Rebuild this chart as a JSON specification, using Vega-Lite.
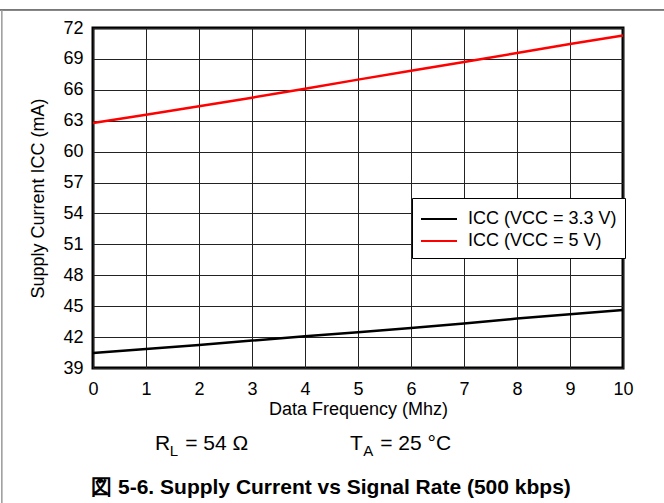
{
  "$schema": "https://vega.github.io/schema/vega-lite/v6.json",
  "width": 530,
  "height": 340,
  "autosize": {"type": "none"},
  "padding": {"left": 93, "top": 28, "right": 41, "bottom": 135},
  "background": "white",
  "config": {
    "font": "Liberation Sans",
    "view": {"stroke": "black", "strokeWidth": 3},
    "axis": {
      "labelFont": "Liberation Sans",
      "titleFont": "Liberation Sans",
      "labelFontSize": 18,
      "titleFontSize": 18,
      "labelColor": "black",
      "titleColor": "black",
      "titleFontWeight": "normal",
      "gridColor": "#222",
      "gridOpacity": 1,
      "gridWidth": 1,
      "domain": false,
      "ticks": false,
      "labelOverlap": false,
      "labelFlush": false
    },
    "text": {"font": "Liberation Sans", "color": "black", "align": "left", "baseline": "alphabetic"}
  },
  "datasets": {
    "curves": [
      {"f": 0, "icc": 40.46, "s": "ICC (VCC = 3.3 V)"},
      {"f": 1, "icc": 40.84, "s": "ICC (VCC = 3.3 V)"},
      {"f": 2, "icc": 41.24, "s": "ICC (VCC = 3.3 V)"},
      {"f": 3, "icc": 41.66, "s": "ICC (VCC = 3.3 V)"},
      {"f": 4, "icc": 42.07, "s": "ICC (VCC = 3.3 V)"},
      {"f": 5, "icc": 42.47, "s": "ICC (VCC = 3.3 V)"},
      {"f": 6, "icc": 42.89, "s": "ICC (VCC = 3.3 V)"},
      {"f": 7, "icc": 43.32, "s": "ICC (VCC = 3.3 V)"},
      {"f": 8, "icc": 43.8, "s": "ICC (VCC = 3.3 V)"},
      {"f": 9, "icc": 44.21, "s": "ICC (VCC = 3.3 V)"},
      {"f": 10, "icc": 44.62, "s": "ICC (VCC = 3.3 V)"},
      {"f": 0, "icc": 62.78, "s": "ICC (VCC = 5 V)"},
      {"f": 1, "icc": 63.57, "s": "ICC (VCC = 5 V)"},
      {"f": 2, "icc": 64.41, "s": "ICC (VCC = 5 V)"},
      {"f": 3, "icc": 65.24, "s": "ICC (VCC = 5 V)"},
      {"f": 4, "icc": 66.1, "s": "ICC (VCC = 5 V)"},
      {"f": 5, "icc": 66.99, "s": "ICC (VCC = 5 V)"},
      {"f": 6, "icc": 67.85, "s": "ICC (VCC = 5 V)"},
      {"f": 7, "icc": 68.71, "s": "ICC (VCC = 5 V)"},
      {"f": 8, "icc": 69.57, "s": "ICC (VCC = 5 V)"},
      {"f": 9, "icc": 70.44, "s": "ICC (VCC = 5 V)"},
      {"f": 10, "icc": 71.28, "s": "ICC (VCC = 5 V)"}
    ]
  },
  "title": {
    "text": "図 5-6. Supply Current vs Signal Rate (500 kbps)",
    "orient": "bottom",
    "anchor": "middle",
    "frame": "group",
    "dx": -27,
    "offset": -31,
    "font": "Liberation Sans",
    "fontSize": 21,
    "fontWeight": "bold",
    "color": "black"
  },
  "layer": [
    {
      "data": {"name": "curves"},
      "mark": {"type": "line", "strokeWidth": 2.5},
      "encoding": {
        "x": {
          "field": "f",
          "type": "quantitative",
          "scale": {"domain": [0, 10], "nice": false, "zero": false},
          "axis": {
            "values": [0, 1, 2, 3, 4, 5, 6, 7, 8, 9, 10],
            "format": "d",
            "title": "Data Frequency (Mhz)",
            "labelPadding": 12,
            "titlePadding": 2,
            "labelOverlap": false,
            "labelFlush": false,
            "grid": true
          }
        },
        "y": {
          "field": "icc",
          "type": "quantitative",
          "scale": {"domain": [39, 72], "nice": false, "zero": false},
          "axis": {
            "values": [39, 42, 45, 48, 51, 54, 57, 60, 63, 66, 69, 72],
            "format": "d",
            "tickCount": 20,
            "title": "Supply Current ICC (mA)",
            "labelPadding": 10,
            "titlePadding": 15,
            "labelOverlap": false,
            "labelFlush": false,
            "labelSeparation": 0,
            "grid": true
          }
        },
        "color": {
          "field": "s",
          "type": "nominal",
          "scale": {
            "domain": ["ICC (VCC = 3.3 V)", "ICC (VCC = 5 V)"],
            "range": ["black", "#ff0000"]
          },
          "legend": {
            "title": null,
            "orient": "none",
            "legendX": 319,
            "legendY": 170,
            "symbolType": "M-1,0H2",
            "symbolSize": 576,
            "symbolStrokeWidth": 2,
            "labelFont": "Liberation Sans",
            "labelFontSize": 18,
            "labelColor": "black",
            "labelOffset": 22,
            "rowPadding": -4,
            "padding": 8,
            "strokeColor": "black",
            "fillColor": "white"
          }
        }
      }
    },
    {
      "data": {"values": [{}]},
      "mark": {"type": "rule", "color": "black", "strokeWidth": 1},
      "encoding": {
        "x": {"datum": -1.76},
        "x2": {"datum": 10.78},
        "y": {"datum": 73.75}
      }
    },
    {
      "data": {"values": [{}]},
      "mark": {"type": "rule", "color": "#999", "strokeWidth": 1.5},
      "encoding": {
        "x": {"datum": -1.72},
        "y": {"datum": 73.75},
        "y2": {"datum": 25.5}
      }
    },
    {
      "data": {"values": [{}]},
      "mark": {"type": "text", "fontSize": 21},
      "encoding": {"x": {"datum": 1.17}, "y": {"datum": 31.04}, "text": {"value": "R"}}
    },
    {
      "data": {"values": [{}]},
      "mark": {"type": "text", "fontSize": 15},
      "encoding": {"x": {"datum": 1.45}, "y": {"datum": 30.5}, "text": {"value": "L"}}
    },
    {
      "data": {"values": [{}]},
      "mark": {"type": "text", "fontSize": 21},
      "encoding": {"x": {"datum": 1.74}, "y": {"datum": 31.04}, "text": {"value": "= 54 Ω"}}
    },
    {
      "data": {"values": [{}]},
      "mark": {"type": "text", "fontSize": 21},
      "encoding": {"x": {"datum": 4.85}, "y": {"datum": 31.04}, "text": {"value": "T"}}
    },
    {
      "data": {"values": [{}]},
      "mark": {"type": "text", "fontSize": 15},
      "encoding": {"x": {"datum": 5.1}, "y": {"datum": 30.5}, "text": {"value": "A"}}
    },
    {
      "data": {"values": [{}]},
      "mark": {"type": "text", "fontSize": 21},
      "encoding": {"x": {"datum": 5.42}, "y": {"datum": 31.04}, "text": {"value": "= 25 °C"}}
    }
  ]
}
